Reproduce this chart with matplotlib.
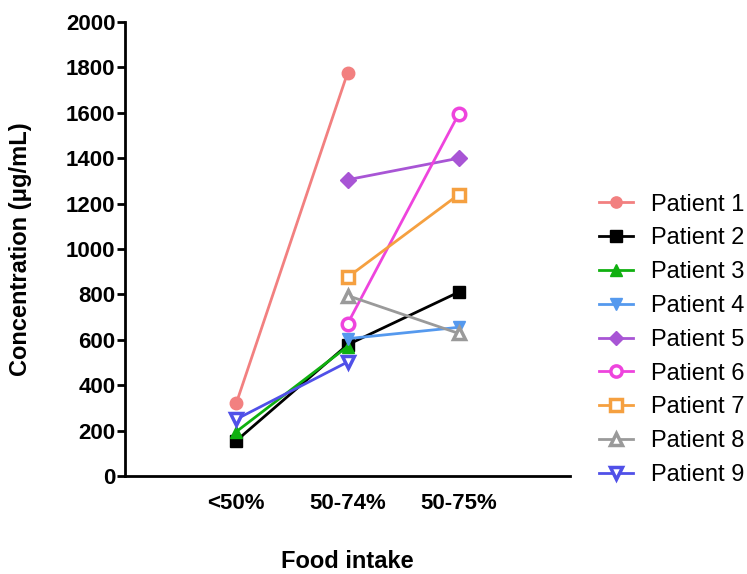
import matplotlib.pyplot as plt
import numpy as np

plt.rcParams['font.family'] = ['Liberation Sans', 'DejaVu Sans']

groups = ['<50%', '50-74%', '50-75%']
nan = np.nan
patients = ['Patient 1', 'Patient 2', 'Patient 3', 'Patient 4', 'Patient 5',
            'Patient 6', 'Patient 7', 'Patient 8', 'Patient 9']
p1 = [320, 1775, nan]
p2 = [155, 578, 810]
p3 = [195, 570, nan]
p4 = [nan, 605, 655]
p5 = [nan, 1305, 1400]
p6 = [nan, 670, 1595]
p7 = [nan, 875, 1240]
p8 = [nan, 795, 628]
p9 = [250, 502, nan]
values = [p1, p2, p3, p4, p5, p6, p7, p8, p9]

colors = ['#F28080', '#000000', '#10B010', '#5599EE', '#A855D5',
          '#EE44DD', '#F5A040', '#9A9A9A', '#5050E8']
markers = ['o', 's', '^', 'v', 'D', 'o', 's', '^', 'v']
filled = [True, True, True, True, True, False, False, False, False]

fig = plt.figure(figsize=(7.47, 5.74), dpi=100)
ax = fig.add_axes([125 / 747, 1 - 476 / 574, 445 / 747, 454 / 574])

x = np.arange(1, len(groups) + 1)
for name, vals, c, m, f in zip(patients, values, colors, markers, filled):
    y = np.array(vals, dtype=float)
    ok = ~np.isnan(y)
    ax.plot(x[ok], y[ok], color=c, lw=2, marker=m,
            ms=9 if m != 'D' else 8,
            mfc=c if f else 'white', mec=c, mew=2.5 if not f else 1,
            label=name, clip_on=False, zorder=3)

ax.set_xlim(0, 4)
ax.set_ylim(0, 2000)
ax.set_yticks(np.arange(0, 2001, 200))
ax.set_xticks(x)
ax.set_xticklabels(groups)
ax.tick_params(axis='x', length=0, pad=12)
ax.tick_params(axis='y', length=6, width=2, pad=1)
for lab in ax.get_xticklabels() + ax.get_yticklabels():
    lab.set_fontsize(16)
    lab.set_fontweight('bold')
for s in ['top', 'right']:
    ax.spines[s].set_visible(False)
for s in ['left', 'bottom']:
    ax.spines[s].set_linewidth(2)

ax.set_ylabel('Concentration (\u03bcg/mL)', fontsize=17, fontweight='bold', labelpad=24)
ax.set_xlabel('Food intake', fontsize=17, fontweight='bold', labelpad=26)

leg = ax.legend(loc='center left', bbox_to_anchor=(1.045, 0.30), frameon=False,
                borderaxespad=0, fontsize=17, handlelength=1.4, labelspacing=0.5,
                handletextpad=0.8, markerscale=0.9)

fig.savefig('out.png', dpi=100)
